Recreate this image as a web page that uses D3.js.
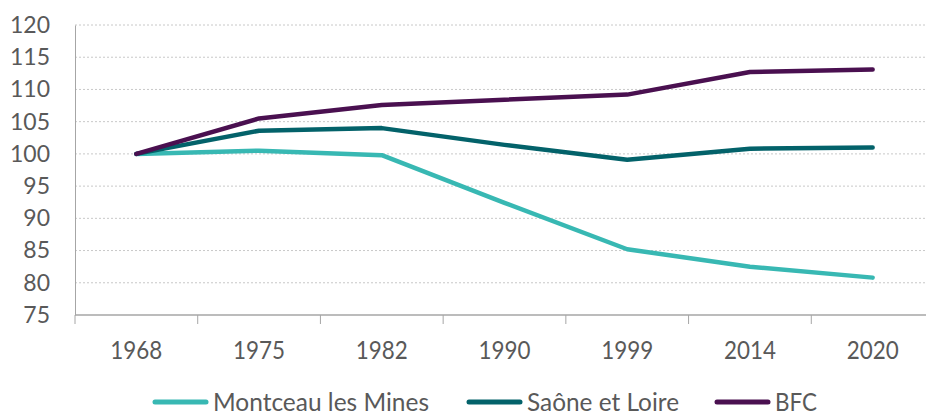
<!DOCTYPE html>
<html>
<head>
<meta charset="utf-8">
<script src="https://cdn.jsdelivr.net/npm/d3@7"></script>
<style>
  body { margin: 0; background: #fff; }
  svg text { font-family: Lato, "Open Sans", sans-serif; fill: #595959; }
</style>
</head>
<body>
<div id="chart"></div>
<script>
// data
var years = ["1968", "1975", "1982", "1990", "1999", "2014", "2020"];
var montceau = [100, 100.5, 99.8, 92.4, 85.2, 82.5, 80.8];
var saone = [100, 103.6, 104.0, 101.4, 99.1, 100.8, 101.0];
var bfc = [100, 105.5, 107.6, 108.4, 109.2, 112.7, 113.1];
var seriesNames = ["Montceau les Mines", "Saône et Loire", "BFC"];
var seriesColors = ["#38b8b3", "#03626a", "#4a1050"];
var yTicks = [75, 80, 85, 90, 95, 100, 105, 110, 115, 120];

var svgWidth = 926, svgHeight = 411;
var margin = { top: 25, left: 75, right: -8, bottom: 96 };
var width = svgWidth - margin.left - margin.right;
var height = svgHeight - margin.top - margin.bottom;

var svg = d3.select("#chart").append("svg")
    .attr("width", svgWidth)
    .attr("height", svgHeight);

var g = svg.append("g")
    .attr("transform", `translate(${margin.left}, ${margin.top})`);

var x = d3.scaleBand().domain(years).range([0, width]);
var y = d3.scaleLinear().domain([75, 120]).range([height, 0]);

// gridlines
g.selectAll(".grid")
    .data(yTicks.filter(d => d > 75))
    .enter().append("line")
    .attr("x1", 0).attr("x2", width)
    .attr("y1", d => y(d)).attr("y2", d => y(d))
    .attr("stroke", "#c8c8c8")
    .attr("stroke-width", 1)
    .attr("stroke-dasharray", "2,2");

// y axis
var yAxis = d3.axisLeft(y).tickValues(yTicks).tickSize(0).tickPadding(25);
var yg = g.append("g").call(yAxis);
yg.select(".domain").attr("stroke", "#a6a6a6");
yg.selectAll("text").style("font-size", "23px").attr("fill", "#595959");

// x axis
var boundaries = years.map(d => x(d)).concat([width]);
var xg = g.append("g").attr("transform", `translate(0, ${height})`);
xg.append("line").attr("x1", 0).attr("x2", width)
    .attr("stroke", "#a6a6a6").attr("stroke-width", 1.3);
xg.selectAll(".tick")
    .data(boundaries)
    .enter().append("line")
    .attr("x1", d => d).attr("x2", d => d)
    .attr("y1", 0).attr("y2", 9)
    .attr("stroke", "#a6a6a6");
xg.selectAll(".lbl")
    .data(years)
    .enter().append("text")
    .attr("x", d => x(d) + x.bandwidth() / 2)
    .attr("y", 44)
    .attr("text-anchor", "middle")
    .attr("textLength", 52)
    .attr("lengthAdjust", "spacingAndGlyphs")
    .style("font-size", "25px")
    .text(d => d);

// lines
var allSeries = [montceau, saone, bfc];
var line = d3.line()
    .x((d, i) => x(years[i]) + x.bandwidth() / 2)
    .y(d => y(d));

g.selectAll(".series")
    .data(allSeries)
    .enter().append("path")
    .attr("d", line)
    .attr("fill", "none")
    .attr("stroke", (d, i) => seriesColors[i])
    .attr("stroke-width", 4.5)
    .attr("stroke-linejoin", "round")
    .attr("stroke-linecap", "round");

// legend
var legendX = [153, 467, 715];
var legendLen = [216, 152, 42];
var legend = svg.append("g").attr("transform", "translate(0, 402)");
var item = legend.selectAll(".item")
    .data(seriesNames)
    .enter().append("g")
    .attr("transform", (d, i) => `translate(${legendX[i]}, 0)`);
item.append("line")
    .attr("x1", 2).attr("x2", 53)
    .attr("stroke", (d, i) => seriesColors[i])
    .attr("stroke-width", 5)
    .attr("stroke-linecap", "round");
item.append("text")
    .attr("x", 60)
    .attr("y", 9)
    .attr("textLength", (d, i) => legendLen[i])
    .attr("lengthAdjust", "spacingAndGlyphs")
    .style("font-size", "25px")
    .text(d => d);
</script>
</body>
</html>
